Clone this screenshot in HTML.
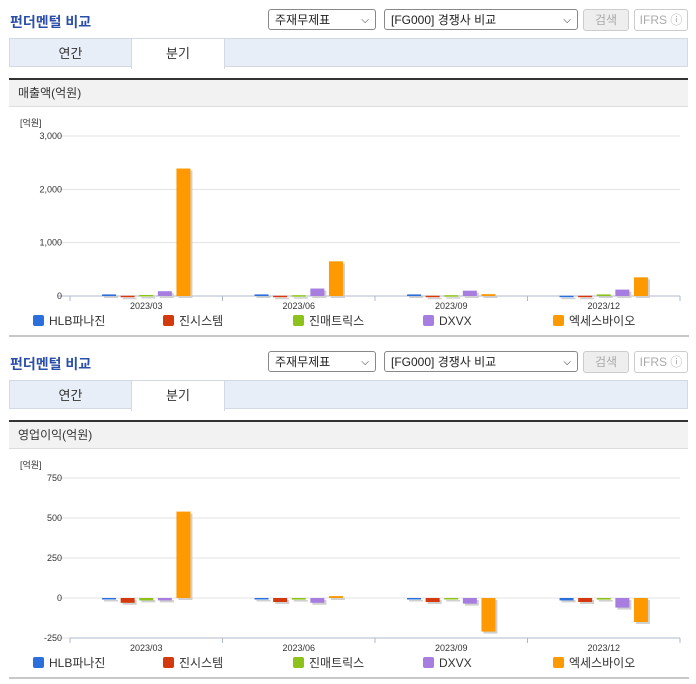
<!DOCTYPE html>
<html><head><meta charset="utf-8">
<style>
body{margin:0;width:696px;height:684px;overflow:hidden;background:#fff;font-family:"Liberation Sans","Noto Sans CJK KR",sans-serif;}
.sec{position:absolute;left:0;width:696px;height:342px;}
.title{position:absolute;left:10px;top:12px;font-size:14px;font-weight:bold;color:#2b4fa8;}
.sel{position:absolute;top:9px;height:21px;border:1px solid #888;border-radius:3px;font-size:12px;line-height:21px;padding-left:6px;box-sizing:border-box;background:#fff;color:#222}
.sel span{position:absolute;right:6px;top:0;font-size:10px}
.btn{position:absolute;top:9px;height:22px;border:1px solid #ccc;border-radius:3px;box-sizing:border-box;font-size:12px;line-height:20px;text-align:center;color:#aaa}
.tabs{position:absolute;left:9px;top:38px;width:679px;height:29px;background:#e8eef7;border:1px solid #d3dae6;box-sizing:border-box}
.tab{position:absolute;top:0;height:29px;line-height:29px;font-size:13px;text-align:center;color:#333}
.head{position:absolute;left:9px;top:78px;width:679px;height:29px;background:#f2f2f2;border-top:2px solid #333;border-bottom:1px solid #ddd;box-sizing:border-box;font-size:12px;line-height:27px;padding-left:9px;color:#333}
svg{position:absolute;left:0;top:0}
.foot{position:absolute;left:9px;top:335px;width:680px;height:2px;background:#c8c8c8}
</style></head><body>
<div id="root"></div>
<script>
const categories=["2023/03","2023/06","2023/09","2023/12"];
const seriesNames=["HLB파나진","진시스템","진매트릭스","DXVX","엑세스바이오"];
const seriesColors=["#2a6fdb","#d4380d","#8cc21a","#a77ee0","#ff9900"];
const salesHLB=[30,30,30,5];
const salesJin=[5,5,5,5];
const salesJinmat=[20,15,15,30];
const salesDXVX=[90,140,100,120];
const salesAccess=[2390,650,35,350];
const opHLB=[0,0,-8,-15];
const opJin=[-30,-25,-25,-25];
const opJinmat=[-15,-10,0,-10];
const opDXVX=[-15,-30,-35,-60];
const opAccess=[540,12,-210,-150];
const salesTicks=[0,1000,2000,3000];
const opTicks=[-250,0,250,500,750];

const root=document.getElementById('root');
const NS="http://www.w3.org/2000/svg";
function mk(tag,attrs,parent){const e=document.createElementNS(NS,tag);for(const k in attrs)e.setAttribute(k,attrs[k]);parent.appendChild(e);return e;}

function section(top,headText,series,ticks,yMin,yMax,yTop,yBot,prefix){
  const s=document.createElement('div');s.className='sec';s.style.top=top+'px';
  
  
  s.innerHTML=`<div class="title">펀더멘털 비교</div>
<div class="sel" style="left:268px;width:108px">주재무제표<span>&#9013;</span></div>
<div class="sel" style="left:384px;width:194px">[FG000] 경쟁사 비교<span>&#9013;</span></div>
<div class="btn" style="left:583px;width:46px;background:#eee">검색</div>
<div class="btn" style="left:634px;width:54px;background:#fff">IFRS ⓘ</div>
<div class="tabs">
<div class="tab" style="left:0;width:121px">연간</div>
<div class="tab" style="left:121px;width:92px;background:#fff;height:30px;border-left:1px solid #d3dae6;border-right:1px solid #d3dae6">분기</div></div>
<div class="head">${headText}</div>
<div class="foot"></div>`;
  root.appendChild(s);
  const svg=mk('svg',{width:696,height:342},s);
  
  
  const x0=70,x1=680;
  const y=v=>yBot-(v-yMin)/(yMax-yMin)*(yBot-yTop);
  const t=mk('text',{x:20,y:126,'font-size':9,fill:'#333'},svg);t.textContent='[억원]';
  
  
  ticks.forEach(v=>{
    const gy=y(v);
    const l=mk('line',{x1:58,x2:x1,y1:gy,y2:gy,stroke:v===0&&yMin===0?'#b0b8c8':'#e3e3e3','stroke-width':1},svg);
    
    
    const tx=mk('text',{x:62,y:gy+3,'font-size':9,fill:'#333','text-anchor':'end'},svg);tx.textContent=v.toLocaleString('en-US');
    
    
  });
  const base=yMin===0?y(0):yBot;
  mk('line',{x1:x0,x2:x1,y1:yBot,y2:yBot,stroke:'#b0b8c8'},svg);
  const gw=(x1-x0)/categories.length;
  for(let i=0;i<=categories.length;i++){mk('line',{x1:x0+i*gw,x2:x0+i*gw,y1:yBot,y2:yBot+5,stroke:'#b0b8c8'},svg);}
  categories.forEach((c,i)=>{
    const tx=mk('text',{x:x0+gw*(i+0.5),y:yBot+13,'font-size':9,fill:'#333','text-anchor':'middle'},svg);tx.textContent=c;
    
    
    series.forEach((arr,j)=>{
      const slot=18.6,bw=14;
      const bx=x0+gw*(i+0.5)-slot*2.5+j*slot+2.3;
      const v=arr[i],z=y(0),yv=y(v);
      const top2=Math.min(z,yv),h=Math.max(Math.abs(z-yv),1.5);
      mk('rect',{x:bx+2,y:top2+2,width:bw,height:h,fill:'#d0d0d0'},svg);
      const r=mk('rect',{x:bx,y:top2,width:bw,height:h,fill:seriesColors[j]},svg);
      
      
    });
  });
  seriesNames.forEach((n,j)=>{
    const lx=33+j*130,ly=yBot+19;
    const r=mk('rect',{x:lx,y:ly,width:11,height:11,rx:2,fill:seriesColors[j]},svg);
    
    
    const tx=mk('text',{x:lx+16,y:ly+10,'font-size':12,fill:'#333'},svg);tx.textContent=n;
    
    
  });
}
section(0,'매출액(억원)',[salesHLB,salesJin,salesJinmat,salesDXVX,salesAccess],salesTicks,0,3000,136,296,'sales');
section(342,'영업이익(억원)',[opHLB,opJin,opJinmat,opDXVX,opAccess],opTicks,-250,750,136,296,'op');
</script>
</body></html>
